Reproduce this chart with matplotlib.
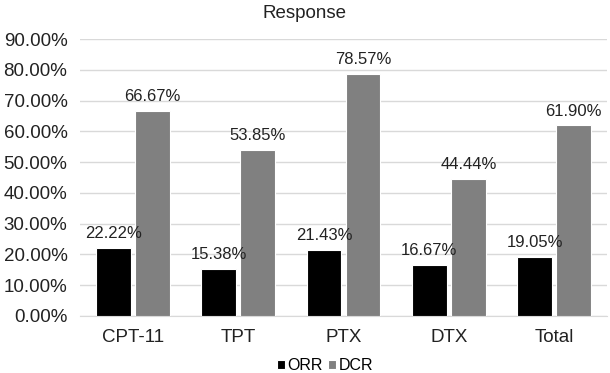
import matplotlib
matplotlib.use("Agg")
import matplotlib.pyplot as plt
import numpy as np
from matplotlib.ticker import FuncFormatter

categories = ["CPT-11", "TPT", "PTX", "DTX", "Total"]
orr = [22.22, 15.38, 21.43, 16.67, 19.05]
dcr = [66.67, 53.85, 78.57, 44.44, 61.90]
yticks = [0, 10, 20, 30, 40, 50, 60, 70, 80, 90]

plt.rcParams['font.family'] = ['Liberation Sans', 'DejaVu Sans']

fig = plt.figure(figsize=(6.1, 3.73), dpi=100)
ax = fig.add_axes([80/610, 1-316/373, 527/610, 277/373])

x = np.arange(len(categories))
w = 0.33
gap = 0.02
b1 = ax.bar(x - w/2 - gap, orr, w, color='black', edgecolor='white', linewidth=0.8, label='ORR', zorder=3)
b2 = ax.bar(x + w/2 + gap, dcr, w, color='#808080', edgecolor='white', linewidth=0.8, label='DCR', zorder=3)

for bars, vals in ((b1, orr), (b2, dcr)):
    for rect, v in zip(bars, vals):
        ax.annotate(f"{v:.2f}%", (rect.get_x() + rect.get_width()/2, v), xytext=(0, 5),
                    textcoords='offset points', ha='center', va='bottom', fontsize=12, color='#222222')

ax.set_xlim(-0.5, len(categories) - 0.5)
ax.set_ylim(0, 90)
ax.set_yticks(yticks)
ax.yaxis.set_major_formatter(FuncFormatter(lambda v, p: f"{v:.2f}%"))
ax.set_xticks(x)
ax.set_xticklabels(categories)
ax.tick_params(axis='both', length=0, labelsize=13.5, colors='#222222')
ax.tick_params(axis='y', pad=9)
ax.tick_params(axis='x', pad=9)
ax.grid(axis='y', color='#d9d9d9', linewidth=1, zorder=0)
for s in ['top', 'right', 'left']:
    ax.spines[s].set_visible(False)
ax.spines['bottom'].set_color('#d9d9d9')

fig.text(0.5, 1-13/373, "Response", ha='center', va='center', fontsize=13.5, color='#222222')

ax.legend(loc='center', bbox_to_anchor=(0.465, -0.18), ncol=2, frameon=False,
          fontsize=11.5, handlelength=0.5, handleheight=0.5, handletextpad=0.2, columnspacing=0.3,
          borderpad=0, borderaxespad=0)

fig.savefig("out.png", dpi=100)
